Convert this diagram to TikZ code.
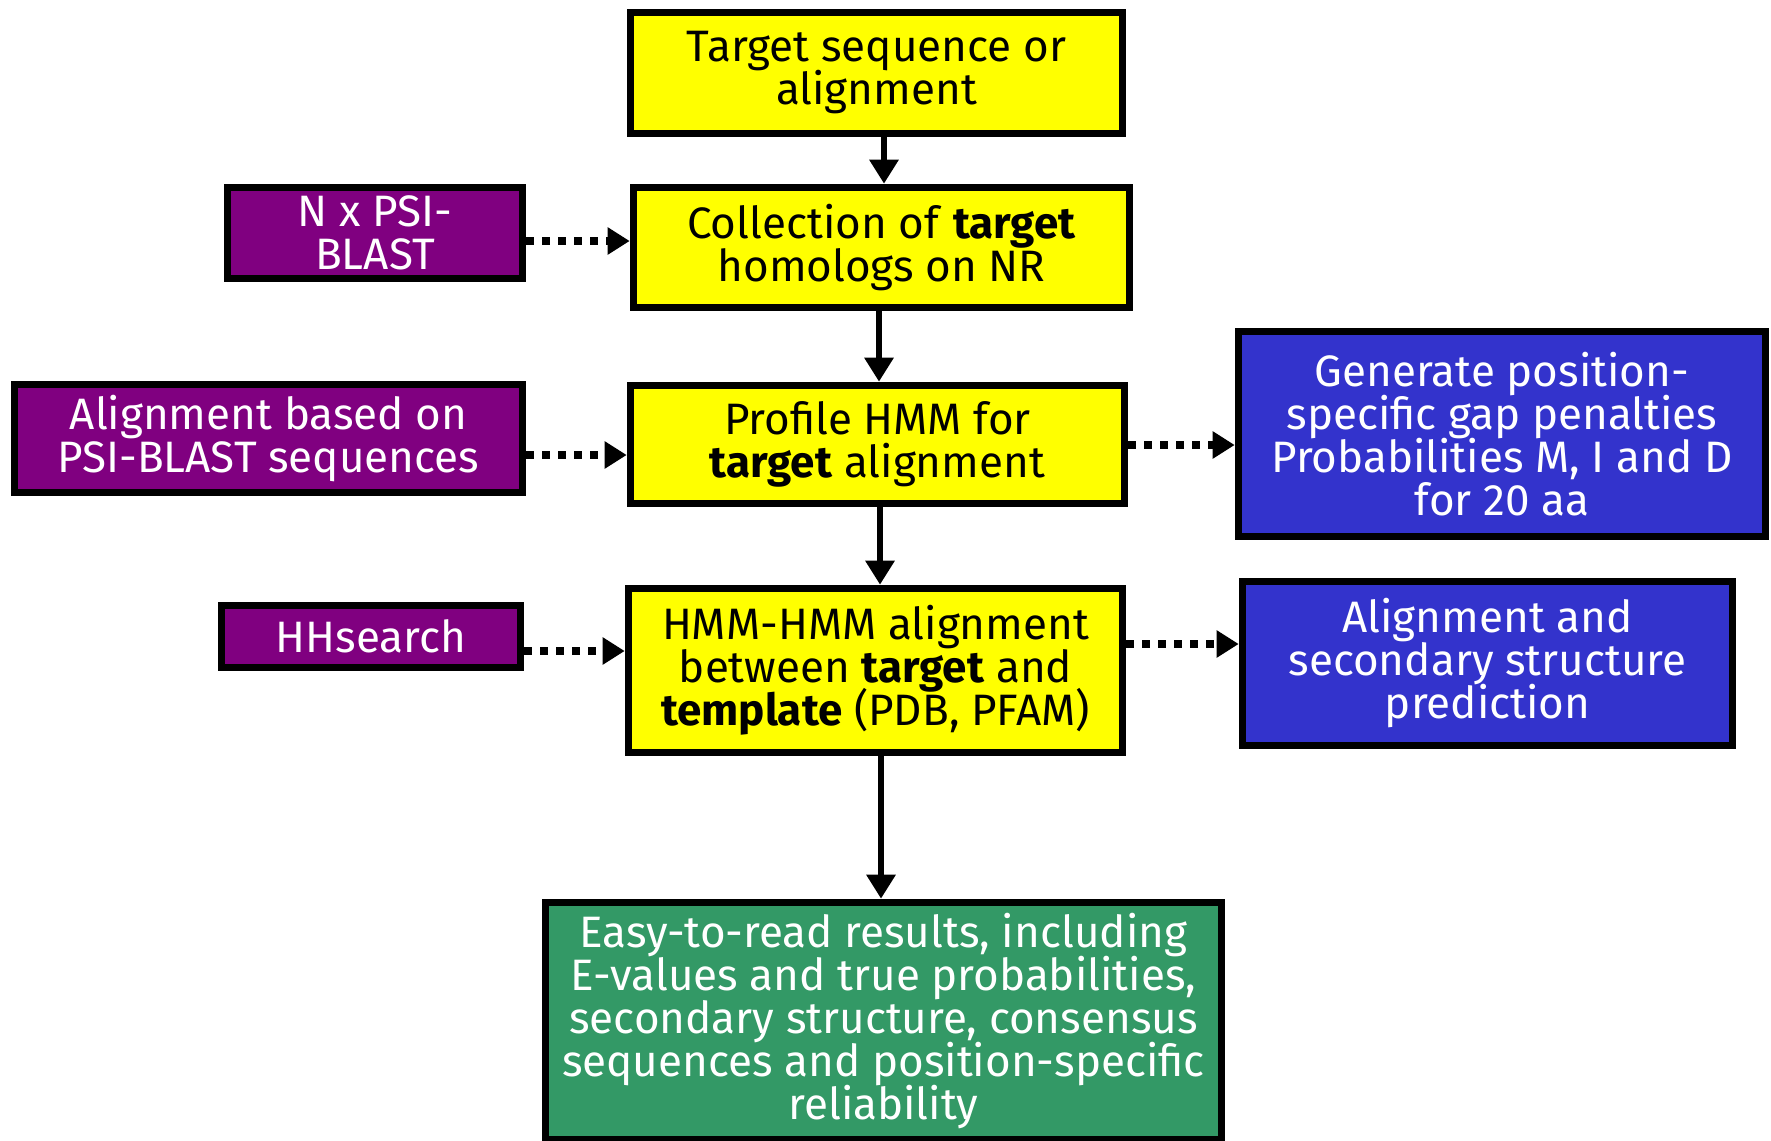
\documentclass[tikz,border=0pt]{standalone}
\usepackage{fontspec}
\setmainfont{Fira Sans}
\usetikzlibrary{arrows.meta}
\definecolor{ylw}{HTML}{FFFF00}
\definecolor{prp}{HTML}{800080}
\definecolor{blu}{HTML}{3333CC}
\definecolor{grn}{HTML}{339966}
\newcommand{\boxfont}{\fontsize{22}{21.5}\selectfont\lineskiplimit-20pt\lineskip0pt\relax}
\begin{document}
\begin{tikzpicture}[x=0.5pt,y=-0.5pt,
  box/.style={draw=black,line width=3.8pt,align=center,inner sep=0pt,font=\boxfont},
  ybox/.style={box,fill=ylw,text=black},
  pbox/.style={box,fill=prp,text=white},
  bbox/.style={box,fill=blu,text=white},
  gbox/.style={box,fill=grn,text=white},
  flow/.style={line width=3pt,-{Triangle[length=12pt,width=14pt]}},
  dotflow/.style={line width=4pt,dash pattern=on 4pt off 4pt,-{Triangle[length=11pt,width=13pt]}}]
\useasboundingbox (0,0) rectangle (1771,1140);
\node[ybox,minimum width=246pt,minimum height=60.5pt] (t1) at (876.5,73) {Target sequence or\\alignment};
\node[ybox,minimum width=248pt,minimum height=60pt] (t2) at (881.5,247.5) {Collection of \textbf{target}\\homologs on NR};
\node[pbox,minimum width=147.5pt,minimum height=45.5pt] (psi) at (375,233) {N x PSI-\\BLAST};
\node[pbox,minimum width=254pt,minimum height=54pt] (aln) at (268.5,438.5) {Alignment based on\\PSI-BLAST sequences};
\node[ybox,minimum width=247pt,minimum height=59pt] (prof) at (877.5,444.5) {Profile HMM for\\\textbf{target} alignment};
\node[bbox,minimum width=263.5pt,minimum height=102.5pt] (gen) at (1502,434) {Generate position-\\specific gap penalties\\Probabilities M, I and D\\for 20 aa};
\node[pbox,minimum width=149.5pt,minimum height=31pt] (hhs) at (371,636.5) {HHsearch};
\node[ybox,minimum width=247pt,minimum height=82pt] (hmm) at (875.5,670.5) {HMM-HMM alignment\\between \textbf{target} and\\\textbf{template} (PDB, PFAM)};
\node[bbox,minimum width=245pt,minimum height=82pt] (sec) at (1487.5,663.5) {Alignment and\\secondary structure\\prediction};
\node[gbox,minimum width=338pt,minimum height=118.5pt] (res) at (883.5,1021) {Easy-to-read results, including\\E-values and true probabilities,\\secondary structure, consensus\\sequences and position-specific\\reliability};
\draw[flow] (t1.south -| 884,0) -- (t2.north -| 884,0);
\draw[flow] (t2.south -| 879,0) -- (prof.north -| 879,0);
\draw[flow] (prof.south -| 880,0) -- (hmm.north -| 880,0);
\draw[flow] (hmm.south -| 881,0) -- (res.north -| 881,0);
\draw[dotflow] (psi.east |- 0,241) -- (t2.west |- 0,241);
\draw[dotflow] (aln.east |- 0,455) -- (prof.west |- 0,455);
\draw[dotflow] (hhs.east |- 0,651) -- (hmm.west |- 0,651);
\draw[dotflow] (prof.east |- 0,445) -- (gen.west |- 0,445);
\draw[dotflow] (hmm.east |- 0,644) -- (sec.west |- 0,644);
\end{tikzpicture}
\end{document}
